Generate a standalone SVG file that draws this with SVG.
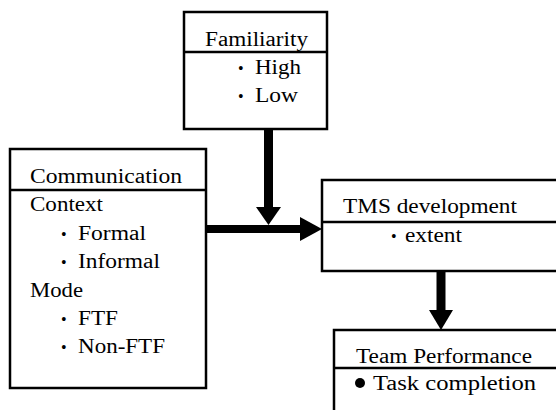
<svg xmlns="http://www.w3.org/2000/svg" width="556" height="410" viewBox="0 0 556 410">
<style>
  .box { fill: #fff; stroke: #000; stroke-width: 2.5; }
  .div { stroke: #000; stroke-width: 2.5; }
  text { font-family: "Liberation Serif", "DejaVu Serif", "Noto Serif", serif; font-size: 20px; fill: #000; }
  .bul { font-size: 16px; }
  .shaft { stroke: #000; fill: none; }
  .head { fill: #000; }
</style>
<rect width="556" height="410" fill="#fff"/>
<line x1="560" y1="335" x2="515" y2="412" stroke="#e4e4e4" stroke-width="5"/>
<g id="familiarity">
  <rect class="box" x="184" y="12" width="143" height="117"/>
  <line class="div" x1="184" y1="52" x2="327" y2="52"/>
  <text x="205" y="46" textLength="103" lengthAdjust="spacingAndGlyphs">Familiarity</text>
  <text class="bul" x="238" y="74">•</text>
  <text x="255" y="74" textLength="46" lengthAdjust="spacingAndGlyphs">High</text>
  <text class="bul" x="238" y="102">•</text>
  <text x="255" y="102" textLength="43" lengthAdjust="spacingAndGlyphs">Low</text>
</g>
<g id="communication">
  <rect class="box" x="10" y="149" width="196" height="239"/>
  <line class="div" x1="10" y1="190" x2="206" y2="190"/>
  <text x="30" y="183" textLength="152" lengthAdjust="spacingAndGlyphs">Communication</text>
  <text x="30" y="211" textLength="73" lengthAdjust="spacingAndGlyphs">Context</text>
  <text class="bul" x="61" y="240">•</text>
  <text x="78" y="240" textLength="68" lengthAdjust="spacingAndGlyphs">Formal</text>
  <text class="bul" x="61" y="268">•</text>
  <text x="78" y="268" textLength="82" lengthAdjust="spacingAndGlyphs">Informal</text>
  <text x="30" y="297" textLength="53" lengthAdjust="spacingAndGlyphs">Mode</text>
  <text class="bul" x="61" y="325">•</text>
  <text x="78" y="325" textLength="40" lengthAdjust="spacingAndGlyphs">FTF</text>
  <text class="bul" x="61" y="353">•</text>
  <text x="78" y="353" textLength="87" lengthAdjust="spacingAndGlyphs">Non-FTF</text>
</g>
<g id="tms">
  <rect class="box" x="322" y="180" width="240" height="91"/>
  <line class="div" x1="322" y1="222" x2="562" y2="222"/>
  <text x="343" y="213" textLength="174" lengthAdjust="spacingAndGlyphs">TMS development</text>
  <text class="bul" x="391" y="242">•</text>
  <text x="405" y="242" textLength="57" lengthAdjust="spacingAndGlyphs">extent</text>
</g>
<g id="team">
  <rect class="box" x="334" y="330" width="230" height="90"/>
  <line class="div" x1="334" y1="368" x2="564" y2="368"/>
  <text x="356" y="363" textLength="176" lengthAdjust="spacingAndGlyphs">Team Performance</text>
  <circle cx="360" cy="383" r="5" fill="#000"/>
  <text x="373" y="390" textLength="163" lengthAdjust="spacingAndGlyphs">Task completion</text>
</g>
<g id="connectors">
  <line class="shaft" x1="268.5" y1="129" x2="268.5" y2="208" stroke-width="9"/>
  <polygon class="head" points="256,207 281,207 268.5,225"/>
  <line class="shaft" x1="206" y1="229" x2="301" y2="229" stroke-width="8"/>
  <polygon class="head" points="300,217 322,229 300,241"/>
  <line class="shaft" x1="441" y1="271" x2="441" y2="311" stroke-width="9"/>
  <polygon class="head" points="429,310 453,310 441,330"/>
</g>
</svg>
